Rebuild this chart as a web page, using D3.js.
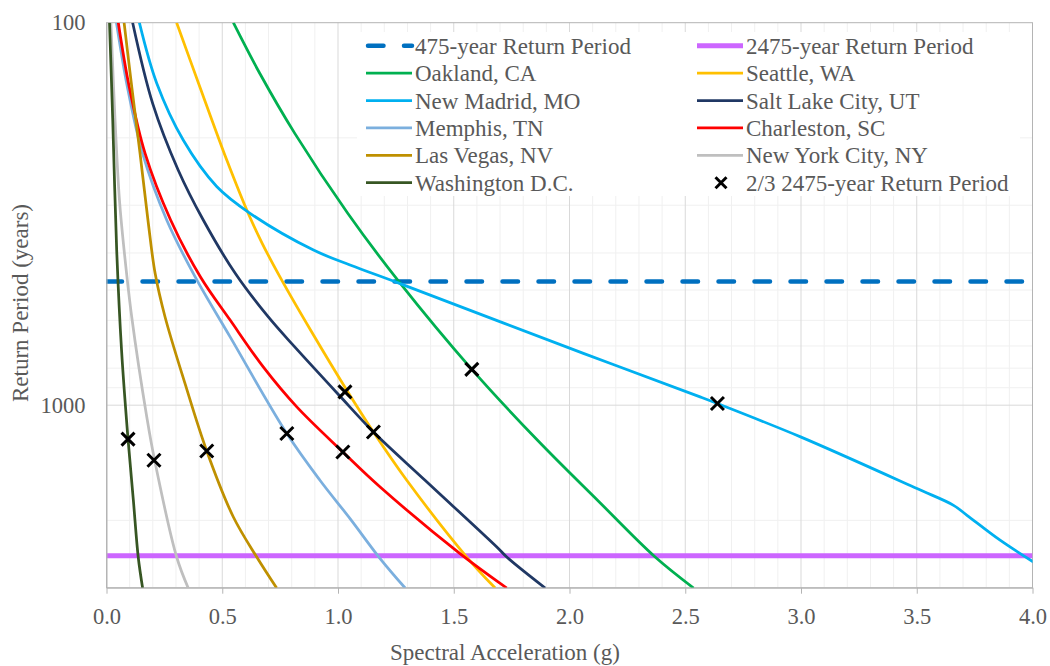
<!DOCTYPE html>
<html>
<head>
<meta charset="utf-8">
<script src="https://cdn.jsdelivr.net/npm/d3@7"></script>
<style>
  body { margin: 0; background: #fff; }
  text { font-family: "Liberation Serif", "Times New Roman", serif; fill: #595959; }
</style>
</head>
<body>
<svg id="chart" width="1050" height="666"></svg>
<script>
// hazard curves, [spectral acceleration (g), return period (years)]
const oakland = [[0.548, 100], [0.663, 136], [0.814, 195], [1.042, 315], [1.264, 476], [1.578, 806],
                 [1.862, 1235], [2.121, 1772], [2.37, 2494], [2.536, 3006]];
const seattle = [[0.303, 100], [0.403, 147], [0.52, 229], [0.612, 315], [0.673, 378], [0.757, 471],
                 [0.882, 637], [1.038, 914], [1.153, 1175], [1.297, 1571], [1.556, 2494], [1.679, 3006]];
const newMadrid = [[0.142, 100], [0.217, 144], [0.332, 203], [0.476, 268], [0.62, 315], [0.894, 393],
                   [1.052, 430], [1.268, 481], [2.06, 732], [2.564, 951], [2.639, 990], [2.998, 1210],
                   [3.501, 1652], [3.659, 1827], [3.717, 1940], [3.86, 2254], [4.004, 2570]];
const saltLake = [[0.113, 100], [0.2, 163], [0.31, 243], [0.418, 328], [0.556, 452], [0.699, 588],
                  [0.813, 704], [1.005, 942], [1.153, 1175], [1.376, 1571], [1.686, 2348], [1.729, 2494],
                  [1.895, 3006]];
const memphis = [[0.043, 100], [0.09, 147], [0.156, 220], [0.26, 328], [0.383, 462], [0.534, 663],
                 [0.779, 1186], [0.922, 1571], [1.052, 1979], [1.182, 2518], [1.29, 3006]];
const charleston = [[0.051, 100], [0.098, 147], [0.167, 220], [0.277, 328], [0.406, 462], [0.534, 599],
                    [0.677, 794], [0.822, 1010], [1.021, 1325], [1.182, 1636], [1.527, 2443], [1.729, 3006]];
const lasVegas = [[0.076, 100], [0.109, 147], [0.145, 220], [0.179, 328], [0.21, 452], [0.253, 588],
                  [0.339, 877], [0.433, 1317], [0.548, 1960], [0.649, 2494], [0.735, 3006]];
const newYork = [[0.019, 100], [0.037, 180], [0.056, 291], [0.076, 393], [0.109, 588], [0.174, 1073],
                 [0.208, 1393], [0.303, 2494], [0.353, 3006]];
const washington = [[0.013, 100], [0.027, 180], [0.044, 393], [0.065, 718], [0.093, 1227], [0.116, 1772],
                    [0.137, 2494], [0.156, 3006]];

// 2/3 of the 2475-year motion, one per site
const markers = [[0.093, 1227], [0.205, 1393], [0.433, 1317], [0.779, 1186], [1.021, 1325],
                 [1.03, 923], [1.153, 1175], [1.578, 806], [2.639, 990]];

const siteNames = ['Oakland, CA', 'Seattle, WA', 'New Madrid, MO', 'Salt Lake City, UT', 'Memphis, TN',
                   'Charleston, SC', 'Las Vegas, NV', 'New York City, NY', 'Washington D.C.'];
const siteColors = ['#00B050', '#FFC000', '#00B0F0', '#203864', '#7BAFDE',
                    '#FF0000', '#BF9000', '#BFBFBF', '#375623'];
const siteCurves = [oakland, seattle, newMadrid, saltLake, memphis, charleston, lasVegas, newYork, washington];

const refPeriods = [475, 2475];
const refNames = ['475-year Return Period', '2475-year Return Period'];
const markerName = '2/3 2475-year Return Period';

const xTicks = [0, 0.5, 1, 1.5, 2, 2.5, 3, 3.5, 4];
const yTicks = [100, 1000];
const yMinor = [200, 300, 400, 500, 600, 700, 800, 900, 2000, 3000];

const margin = {top: 22.7, right: 17.5, bottom: 78.3, left: 106.5};
const width = 1050 - margin.left - margin.right;
const height = 666 - margin.top - margin.bottom;

const svg = d3.select('#chart');
const g = svg.append('g')
             .attr('transform', `translate(${margin.left},${margin.top})`);

const x = d3.scaleLinear().domain([0, 4]).range([0, width]);
const y = d3.scaleLog().domain([100, 3000]).range([0, height]);

// gridlines
g.append('g')
 .selectAll('line')
 .data(d3.range(1, 40).map(i => i / 10).filter(v => Math.round(v * 10) % 5 !== 0))
 .join('line')
 .attr('x1', d => x(d)).attr('x2', d => x(d))
 .attr('y1', 0).attr('y2', height)
 .attr('stroke', '#F0F0F0');

g.append('g')
 .selectAll('line')
 .data(yMinor)
 .join('line')
 .attr('x1', 0).attr('x2', width)
 .attr('y1', d => y(d)).attr('y2', d => y(d))
 .attr('stroke', '#F0F0F0');

g.append('g')
 .selectAll('line')
 .data(xTicks.slice(1, -1))
 .join('line')
 .attr('x1', d => x(d)).attr('x2', d => x(d))
 .attr('y1', 0).attr('y2', height)
 .attr('stroke', '#D9D9D9');

g.append('line')
 .attr('x1', 0).attr('x2', width)
 .attr('y1', y(1000)).attr('y2', y(1000))
 .attr('stroke', '#D9D9D9');

// plot border
g.append('rect')
 .attr('width', width)
 .attr('height', height)
 .attr('fill', 'none')
 .attr('stroke', '#B4B4B4');

g.append('clipPath')
 .attr('id', 'plot-clip')
 .append('rect')
 .attr('width', width)
 .attr('height', height);

const plot = g.append('g').attr('clip-path', 'url(#plot-clip)');

// reference return periods
plot.append('line')
    .attr('x1', x(0)).attr('x2', x(4))
    .attr('y1', y(refPeriods[0])).attr('y2', y(refPeriods[0]))
    .attr('stroke', '#0070C0')
    .attr('stroke-width', 4.5)
    .attr('stroke-linecap', 'round')
    .attr('stroke-dasharray', '15.5,20.5');

plot.append('line')
    .attr('x1', x(0)).attr('x2', x(4))
    .attr('y1', y(refPeriods[1])).attr('y2', y(refPeriods[1]))
    .attr('stroke', '#CC66FF')
    .attr('stroke-width', 5);

const line = d3.line()
               .x(d => x(d[0]))
               .y(d => y(d[1]))
               .curve(d3.curveCatmullRom.alpha(0.5));

plot.selectAll('path.site')
    .data(siteCurves)
    .join('path')
    .attr('class', 'site')
    .attr('d', line)
    .attr('fill', 'none')
    .attr('stroke', (d, i) => siteColors[i])
    .attr('stroke-width', 2.75);

const cross = 'M-6.5,-6.5L6.5,6.5M-6.5,6.5L6.5,-6.5';

g.selectAll('path.marker')
 .data(markers)
 .join('path')
 .attr('class', 'marker')
 .attr('transform', d => `translate(${x(d[0])},${y(d[1])})`)
 .attr('d', cross)
 .attr('stroke', '#000')
 .attr('stroke-width', 3);

// axes
const xAxis = g.append('g')
               .attr('transform', `translate(0,${height})`)
               .call(d3.axisBottom(x)
                       .tickValues(xTicks)
                       .tickFormat(d3.format('.1f'))
                       .tickSize(6)
                       .tickSizeOuter(0)
                       .tickPadding(14));

const yAxis = g.append('g')
               .call(d3.axisLeft(y)
                       .tickValues(yTicks)
                       .tickFormat(d3.format('d'))
                       .tickSize(0)
                       .tickPadding(21));

[xAxis, yAxis].forEach(a => {
  a.attr('font-family', null);
  a.select('.domain').attr('stroke', '#B4B4B4');
  a.selectAll('.tick line').attr('stroke', '#B4B4B4');
  a.selectAll('text')
   .attr('font-size', 22.5)
   .attr('fill', '#595959');
});

svg.append('text')
   .attr('x', 505)
   .attr('y', 660)
   .attr('text-anchor', 'middle')
   .attr('font-size', 23)
   .text('Spectral Acceleration (g)');

svg.append('text')
   .attr('transform', 'translate(28,303) rotate(-90)')
   .attr('text-anchor', 'middle')
   .attr('font-size', 23)
   .text('Return Period (years)');

// legend, two columns
const legend = svg.append('g');
legend.append('rect')
      .attr('x', 357).attr('y', 32)
      .attr('width', 663).attr('height', 164)
      .attr('fill', '#fff');

const entries = [
  {name: refNames[0], color: '#0070C0', kind: 'dash'},
  {name: refNames[1], color: '#CC66FF', kind: 'thick'}
].concat(siteNames.map((n, i) => ({name: n, color: siteColors[i], kind: 'line'})))
 .concat([{name: markerName, color: '#000', kind: 'cross'}]);

const item = legend.selectAll('g.item')
                   .data(entries)
                   .join('g')
                   .attr('class', 'item')
                   .attr('transform', (d, i) => `translate(${i % 2 ? 697 : 366},${45.7 + Math.floor(i / 2) * 27.4})`);

item.filter(d => d.kind !== 'cross')
    .append('line')
    .attr('x1', d => d.kind === 'dash' ? 2 : 0)
    .attr('x2', 46)
    .attr('stroke', d => d.color)
    .attr('stroke-width', d => d.kind === 'line' ? 2.75 : (d.kind === 'dash' ? 4.5 : 5))
    .attr('stroke-linecap', d => d.kind === 'dash' ? 'round' : 'butt')
    .attr('stroke-dasharray', d => d.kind === 'dash' ? '15.5,20.5' : null);

item.filter(d => d.kind === 'cross')
    .append('path')
    .attr('transform', 'translate(24,0)')
    .attr('d', 'M-5.5,-5.5L5.5,5.5M-5.5,5.5L5.5,-5.5')
    .attr('stroke', '#000')
    .attr('stroke-width', 3);

item.append('text')
    .attr('x', 49)
    .attr('dy', '0.35em')
    .attr('font-size', 23)
    .text(d => d.name);
</script>
</body>
</html>
